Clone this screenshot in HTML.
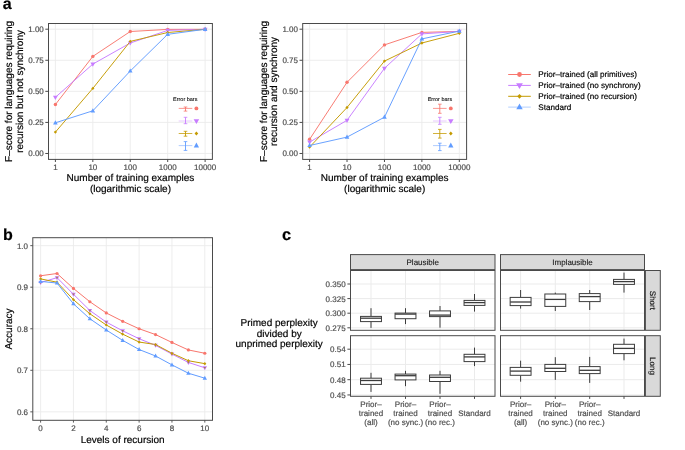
<!DOCTYPE html>
<html><head><meta charset="utf-8"><style>
html,body{margin:0;padding:0;background:#fff;}
svg{display:block;will-change:transform;}
text{text-rendering:geometricPrecision;font-family:"Liberation Sans",sans-serif;stroke:currentColor;stroke-width:0.18px;}
</style></head><body>
<svg width="685" height="450" viewBox="0 0 685 450" font-family="Liberation Sans, sans-serif">
<rect width="685" height="450" fill="#fff"/>
<line x1="48.5" y1="29.2" x2="212.4" y2="29.2" stroke="#EBEBEB" stroke-width="0.9" />
<line x1="48.5" y1="60.269999999999996" x2="212.4" y2="60.269999999999996" stroke="#EBEBEB" stroke-width="0.9" />
<line x1="48.5" y1="91.34" x2="212.4" y2="91.34" stroke="#EBEBEB" stroke-width="0.9" />
<line x1="48.5" y1="122.41000000000001" x2="212.4" y2="122.41000000000001" stroke="#EBEBEB" stroke-width="0.9" />
<line x1="48.5" y1="153.48" x2="212.4" y2="153.48" stroke="#EBEBEB" stroke-width="0.9" />
<line x1="55.4" y1="23.5" x2="55.4" y2="159.4" stroke="#EBEBEB" stroke-width="0.9" />
<line x1="92.83" y1="23.5" x2="92.83" y2="159.4" stroke="#EBEBEB" stroke-width="0.9" />
<line x1="130.26" y1="23.5" x2="130.26" y2="159.4" stroke="#EBEBEB" stroke-width="0.9" />
<line x1="167.69" y1="23.5" x2="167.69" y2="159.4" stroke="#EBEBEB" stroke-width="0.9" />
<line x1="205.12" y1="23.5" x2="205.12" y2="159.4" stroke="#EBEBEB" stroke-width="0.9" />
<polyline fill="none" stroke="#F8766D" stroke-width="0.95" points="55.4,104.5 92.83,56.4 130.26,31.5 167.69,29.4 205.12,29.3"/>
<polyline fill="none" stroke="#C77CFF" stroke-width="0.95" points="55.4,97.3 92.83,64.1 130.26,43.0 167.69,30.4 205.12,29.3"/>
<polyline fill="none" stroke="#C49A00" stroke-width="0.95" points="55.4,132.1 92.83,88.4 130.26,41.4 167.69,32.5 205.12,29.3"/>
<polyline fill="none" stroke="#619CFF" stroke-width="0.95" points="55.4,122.8 92.83,110.8 130.26,71.0 167.69,34.3 205.12,29.3"/>
<circle cx="55.4" cy="104.5" r="1.70" fill="#F8766D"/>
<circle cx="92.83" cy="56.4" r="1.70" fill="#F8766D"/>
<circle cx="130.26" cy="31.5" r="1.70" fill="#F8766D"/>
<circle cx="167.69" cy="29.4" r="1.70" fill="#F8766D"/>
<circle cx="205.12" cy="29.3" r="1.70" fill="#F8766D"/>
<polygon points="53.00,95.72 57.80,95.72 55.40,99.92" fill="#C77CFF"/>
<polygon points="90.43,62.52 95.23,62.52 92.83,66.72" fill="#C77CFF"/>
<polygon points="127.86,41.42 132.66,41.42 130.26,45.62" fill="#C77CFF"/>
<polygon points="165.29,28.82 170.09,28.82 167.69,33.02" fill="#C77CFF"/>
<polygon points="202.72,27.73 207.52,27.73 205.12,31.93" fill="#C77CFF"/>
<polygon points="53.80,132.10 55.40,130.40 57.00,132.10 55.40,133.80" fill="#C49A00"/>
<polygon points="91.23,88.40 92.83,86.70 94.43,88.40 92.83,90.10" fill="#C49A00"/>
<polygon points="128.66,41.40 130.26,39.70 131.86,41.40 130.26,43.10" fill="#C49A00"/>
<polygon points="166.09,32.50 167.69,30.80 169.29,32.50 167.69,34.20" fill="#C49A00"/>
<polygon points="203.52,29.30 205.12,27.60 206.72,29.30 205.12,31.00" fill="#C49A00"/>
<polygon points="53.10,124.38 57.70,124.38 55.40,120.17" fill="#619CFF"/>
<polygon points="90.53,112.38 95.13,112.38 92.83,108.17" fill="#619CFF"/>
<polygon points="127.96,72.58 132.56,72.58 130.26,68.38" fill="#619CFF"/>
<polygon points="165.39,35.88 169.99,35.88 167.69,31.67" fill="#619CFF"/>
<polygon points="202.82,30.88 207.42,30.88 205.12,26.68" fill="#619CFF"/>
<text x="173" y="100.8" font-size="5.5" fill="#000" color="#000" text-anchor="start" style="stroke-width:0.08px">Error bars</text>
<line x1="178.7" y1="108.4" x2="192.3" y2="108.4" stroke="#F8766D" stroke-width="0.9" stroke-opacity="0.85"/>
<line x1="185.5" y1="107" x2="185.5" y2="111.1" stroke="#F8766D" stroke-width="0.9" />
<line x1="183.7" y1="107" x2="187.3" y2="107" stroke="#F8766D" stroke-width="0.8" />
<line x1="183.7" y1="111.1" x2="187.3" y2="111.1" stroke="#F8766D" stroke-width="0.8" />
<circle cx="196.4" cy="108.4" r="1.95" fill="#F8766D"/>
<line x1="178.7" y1="121.0" x2="192.3" y2="121.0" stroke="#C77CFF" stroke-width="0.9" stroke-opacity="0.45"/>
<line x1="185.5" y1="117.3" x2="185.5" y2="123.7" stroke="#C77CFF" stroke-width="0.9" />
<line x1="183.7" y1="117.3" x2="187.3" y2="117.3" stroke="#C77CFF" stroke-width="0.8" />
<line x1="183.7" y1="123.7" x2="187.3" y2="123.7" stroke="#C77CFF" stroke-width="0.8" />
<polygon points="193.64,119.19 199.16,119.19 196.40,124.02" fill="#C77CFF"/>
<line x1="178.7" y1="133.5" x2="192.3" y2="133.5" stroke="#C49A00" stroke-width="0.9" stroke-opacity="0.85"/>
<line x1="185.5" y1="131.3" x2="185.5" y2="136.2" stroke="#C49A00" stroke-width="0.9" />
<line x1="183.7" y1="131.3" x2="187.3" y2="131.3" stroke="#C49A00" stroke-width="0.8" />
<line x1="183.7" y1="136.2" x2="187.3" y2="136.2" stroke="#C49A00" stroke-width="0.8" />
<polygon points="194.56,133.50 196.40,131.54 198.24,133.50 196.40,135.46" fill="#C49A00"/>
<line x1="178.7" y1="145.6" x2="192.3" y2="145.6" stroke="#619CFF" stroke-width="0.9" stroke-opacity="0.55"/>
<line x1="185.5" y1="141.6" x2="185.5" y2="150.4" stroke="#619CFF" stroke-width="0.9" />
<line x1="183.7" y1="141.6" x2="187.3" y2="141.6" stroke="#619CFF" stroke-width="0.8" />
<line x1="183.7" y1="150.4" x2="187.3" y2="150.4" stroke="#619CFF" stroke-width="0.8" />
<polygon points="193.75,147.41 199.05,147.41 196.40,142.58" fill="#619CFF"/>
<rect x="48.5" y="23.5" width="163.9" height="135.9" fill="none" stroke="#4a4a4a" stroke-width="1"/>
<line x1="45.3" y1="29.2" x2="48.5" y2="29.2" stroke="#4a4a4a" stroke-width="1" />
<text x="43.8" y="32.1" font-size="8" fill="#4D4D4D" color="#4D4D4D" text-anchor="end" >1.00</text>
<line x1="45.3" y1="60.269999999999996" x2="48.5" y2="60.269999999999996" stroke="#4a4a4a" stroke-width="1" />
<text x="43.8" y="63.169999999999995" font-size="8" fill="#4D4D4D" color="#4D4D4D" text-anchor="end" >0.75</text>
<line x1="45.3" y1="91.34" x2="48.5" y2="91.34" stroke="#4a4a4a" stroke-width="1" />
<text x="43.8" y="94.24000000000001" font-size="8" fill="#4D4D4D" color="#4D4D4D" text-anchor="end" >0.50</text>
<line x1="45.3" y1="122.41000000000001" x2="48.5" y2="122.41000000000001" stroke="#4a4a4a" stroke-width="1" />
<text x="43.8" y="125.31000000000002" font-size="8" fill="#4D4D4D" color="#4D4D4D" text-anchor="end" >0.25</text>
<line x1="45.3" y1="153.48" x2="48.5" y2="153.48" stroke="#4a4a4a" stroke-width="1" />
<text x="43.8" y="156.38" font-size="8" fill="#4D4D4D" color="#4D4D4D" text-anchor="end" >0.00</text>
<line x1="55.4" y1="159.4" x2="55.4" y2="162.0" stroke="#4a4a4a" stroke-width="1" />
<text x="55.4" y="169.8" font-size="8" fill="#4D4D4D" color="#4D4D4D" text-anchor="middle" >1</text>
<line x1="92.83" y1="159.4" x2="92.83" y2="162.0" stroke="#4a4a4a" stroke-width="1" />
<text x="92.83" y="169.8" font-size="8" fill="#4D4D4D" color="#4D4D4D" text-anchor="middle" >10</text>
<line x1="130.26" y1="159.4" x2="130.26" y2="162.0" stroke="#4a4a4a" stroke-width="1" />
<text x="130.26" y="169.8" font-size="8" fill="#4D4D4D" color="#4D4D4D" text-anchor="middle" >100</text>
<line x1="167.69" y1="159.4" x2="167.69" y2="162.0" stroke="#4a4a4a" stroke-width="1" />
<text x="167.69" y="169.8" font-size="8" fill="#4D4D4D" color="#4D4D4D" text-anchor="middle" >1000</text>
<line x1="205.12" y1="159.4" x2="205.12" y2="162.0" stroke="#4a4a4a" stroke-width="1" />
<text x="205.12" y="169.8" font-size="8" fill="#4D4D4D" color="#4D4D4D" text-anchor="middle" >10000</text>
<text x="130.45" y="181.4" font-size="10" fill="#000" color="#000" text-anchor="middle" >Number of training examples</text>
<text x="130.45" y="191.8" font-size="10" fill="#000" color="#000" text-anchor="middle" >(logarithmic scale)</text>
<text transform="translate(12.4,91.45) rotate(-90)" font-size="10" text-anchor="middle">F–score for languages requiring</text>
<text transform="translate(23.2,91.45) rotate(-90)" font-size="10" text-anchor="middle">recursion but not synchrony</text>
<line x1="302.7" y1="29.2" x2="466.6" y2="29.2" stroke="#EBEBEB" stroke-width="0.9" />
<line x1="302.7" y1="60.269999999999996" x2="466.6" y2="60.269999999999996" stroke="#EBEBEB" stroke-width="0.9" />
<line x1="302.7" y1="91.34" x2="466.6" y2="91.34" stroke="#EBEBEB" stroke-width="0.9" />
<line x1="302.7" y1="122.41000000000001" x2="466.6" y2="122.41000000000001" stroke="#EBEBEB" stroke-width="0.9" />
<line x1="302.7" y1="153.48" x2="466.6" y2="153.48" stroke="#EBEBEB" stroke-width="0.9" />
<line x1="309.59999999999997" y1="23.5" x2="309.59999999999997" y2="159.4" stroke="#EBEBEB" stroke-width="0.9" />
<line x1="347.03" y1="23.5" x2="347.03" y2="159.4" stroke="#EBEBEB" stroke-width="0.9" />
<line x1="384.46" y1="23.5" x2="384.46" y2="159.4" stroke="#EBEBEB" stroke-width="0.9" />
<line x1="421.89" y1="23.5" x2="421.89" y2="159.4" stroke="#EBEBEB" stroke-width="0.9" />
<line x1="459.31999999999994" y1="23.5" x2="459.31999999999994" y2="159.4" stroke="#EBEBEB" stroke-width="0.9" />
<polyline fill="none" stroke="#F8766D" stroke-width="0.95" points="309.59999999999997,139.3 347.03,82.3 384.46,44.9 421.89,32.4 459.31999999999994,31.4"/>
<polyline fill="none" stroke="#C77CFF" stroke-width="0.95" points="309.59999999999997,142.1 347.03,120.3 384.46,68.3 421.89,33.9 459.31999999999994,31.4"/>
<polyline fill="none" stroke="#C49A00" stroke-width="0.95" points="309.59999999999997,147.1 347.03,107.5 384.46,61.1 421.89,43.0 459.31999999999994,33.3"/>
<polyline fill="none" stroke="#619CFF" stroke-width="0.95" points="309.59999999999997,145.5 347.03,137.1 384.46,117.2 421.89,38.9 459.31999999999994,31.1"/>
<circle cx="309.59999999999997" cy="139.3" r="1.70" fill="#F8766D"/>
<circle cx="347.03" cy="82.3" r="1.70" fill="#F8766D"/>
<circle cx="384.46" cy="44.9" r="1.70" fill="#F8766D"/>
<circle cx="421.89" cy="32.4" r="1.70" fill="#F8766D"/>
<circle cx="459.31999999999994" cy="31.4" r="1.70" fill="#F8766D"/>
<polygon points="307.20,140.53 312.00,140.53 309.60,144.72" fill="#C77CFF"/>
<polygon points="344.63,118.72 349.43,118.72 347.03,122.92" fill="#C77CFF"/>
<polygon points="382.06,66.72 386.86,66.72 384.46,70.92" fill="#C77CFF"/>
<polygon points="419.49,32.32 424.29,32.32 421.89,36.52" fill="#C77CFF"/>
<polygon points="456.92,29.82 461.72,29.82 459.32,34.02" fill="#C77CFF"/>
<polygon points="308.00,147.10 309.60,145.40 311.20,147.10 309.60,148.80" fill="#C49A00"/>
<polygon points="345.43,107.50 347.03,105.80 348.63,107.50 347.03,109.20" fill="#C49A00"/>
<polygon points="382.86,61.10 384.46,59.40 386.06,61.10 384.46,62.80" fill="#C49A00"/>
<polygon points="420.29,43.00 421.89,41.30 423.49,43.00 421.89,44.70" fill="#C49A00"/>
<polygon points="457.72,33.30 459.32,31.60 460.92,33.30 459.32,35.00" fill="#C49A00"/>
<polygon points="307.30,147.07 311.90,147.07 309.60,142.88" fill="#619CFF"/>
<polygon points="344.73,138.67 349.33,138.67 347.03,134.47" fill="#619CFF"/>
<polygon points="382.16,118.78 386.76,118.78 384.46,114.58" fill="#619CFF"/>
<polygon points="419.59,40.48 424.19,40.48 421.89,36.27" fill="#619CFF"/>
<polygon points="457.02,32.68 461.62,32.68 459.32,28.48" fill="#619CFF"/>
<text x="427.7" y="100.8" font-size="5.5" fill="#000" color="#000" text-anchor="start" style="stroke-width:0.08px">Error bars</text>
<line x1="433.0" y1="108.4" x2="446.6" y2="108.4" stroke="#F8766D" stroke-width="0.9" stroke-opacity="0.85"/>
<line x1="439.8" y1="104.2" x2="439.8" y2="113.3" stroke="#F8766D" stroke-width="0.9" />
<line x1="438.0" y1="104.2" x2="441.6" y2="104.2" stroke="#F8766D" stroke-width="0.8" />
<line x1="438.0" y1="113.3" x2="441.6" y2="113.3" stroke="#F8766D" stroke-width="0.8" />
<circle cx="450.8" cy="108.4" r="1.95" fill="#F8766D"/>
<line x1="433.0" y1="121.0" x2="446.6" y2="121.0" stroke="#C77CFF" stroke-width="0.9" stroke-opacity="0.45"/>
<line x1="439.8" y1="117.3" x2="439.8" y2="124.3" stroke="#C77CFF" stroke-width="0.9" />
<line x1="438.0" y1="117.3" x2="441.6" y2="117.3" stroke="#C77CFF" stroke-width="0.8" />
<line x1="438.0" y1="124.3" x2="441.6" y2="124.3" stroke="#C77CFF" stroke-width="0.8" />
<polygon points="448.04,119.19 453.56,119.19 450.80,124.02" fill="#C77CFF"/>
<line x1="433.0" y1="133.5" x2="446.6" y2="133.5" stroke="#C49A00" stroke-width="0.9" stroke-opacity="0.85"/>
<line x1="439.8" y1="129.4" x2="439.8" y2="138.1" stroke="#C49A00" stroke-width="0.9" />
<line x1="438.0" y1="129.4" x2="441.6" y2="129.4" stroke="#C49A00" stroke-width="0.8" />
<line x1="438.0" y1="138.1" x2="441.6" y2="138.1" stroke="#C49A00" stroke-width="0.8" />
<polygon points="448.96,133.50 450.80,131.54 452.64,133.50 450.80,135.46" fill="#C49A00"/>
<line x1="433.0" y1="145.6" x2="446.6" y2="145.6" stroke="#619CFF" stroke-width="0.9" stroke-opacity="0.55"/>
<line x1="439.8" y1="143.2" x2="439.8" y2="150.6" stroke="#619CFF" stroke-width="0.9" />
<line x1="438.0" y1="143.2" x2="441.6" y2="143.2" stroke="#619CFF" stroke-width="0.8" />
<line x1="438.0" y1="150.6" x2="441.6" y2="150.6" stroke="#619CFF" stroke-width="0.8" />
<polygon points="448.16,147.41 453.44,147.41 450.80,142.58" fill="#619CFF"/>
<rect x="302.7" y="23.5" width="163.90000000000003" height="135.9" fill="none" stroke="#4a4a4a" stroke-width="1"/>
<line x1="299.5" y1="29.2" x2="302.7" y2="29.2" stroke="#4a4a4a" stroke-width="1" />
<text x="298.0" y="32.1" font-size="8" fill="#4D4D4D" color="#4D4D4D" text-anchor="end" >1.00</text>
<line x1="299.5" y1="60.269999999999996" x2="302.7" y2="60.269999999999996" stroke="#4a4a4a" stroke-width="1" />
<text x="298.0" y="63.169999999999995" font-size="8" fill="#4D4D4D" color="#4D4D4D" text-anchor="end" >0.75</text>
<line x1="299.5" y1="91.34" x2="302.7" y2="91.34" stroke="#4a4a4a" stroke-width="1" />
<text x="298.0" y="94.24000000000001" font-size="8" fill="#4D4D4D" color="#4D4D4D" text-anchor="end" >0.50</text>
<line x1="299.5" y1="122.41000000000001" x2="302.7" y2="122.41000000000001" stroke="#4a4a4a" stroke-width="1" />
<text x="298.0" y="125.31000000000002" font-size="8" fill="#4D4D4D" color="#4D4D4D" text-anchor="end" >0.25</text>
<line x1="299.5" y1="153.48" x2="302.7" y2="153.48" stroke="#4a4a4a" stroke-width="1" />
<text x="298.0" y="156.38" font-size="8" fill="#4D4D4D" color="#4D4D4D" text-anchor="end" >0.00</text>
<line x1="309.59999999999997" y1="159.4" x2="309.59999999999997" y2="162.0" stroke="#4a4a4a" stroke-width="1" />
<text x="309.59999999999997" y="169.8" font-size="8" fill="#4D4D4D" color="#4D4D4D" text-anchor="middle" >1</text>
<line x1="347.03" y1="159.4" x2="347.03" y2="162.0" stroke="#4a4a4a" stroke-width="1" />
<text x="347.03" y="169.8" font-size="8" fill="#4D4D4D" color="#4D4D4D" text-anchor="middle" >10</text>
<line x1="384.46" y1="159.4" x2="384.46" y2="162.0" stroke="#4a4a4a" stroke-width="1" />
<text x="384.46" y="169.8" font-size="8" fill="#4D4D4D" color="#4D4D4D" text-anchor="middle" >100</text>
<line x1="421.89" y1="159.4" x2="421.89" y2="162.0" stroke="#4a4a4a" stroke-width="1" />
<text x="421.89" y="169.8" font-size="8" fill="#4D4D4D" color="#4D4D4D" text-anchor="middle" >1000</text>
<line x1="459.31999999999994" y1="159.4" x2="459.31999999999994" y2="162.0" stroke="#4a4a4a" stroke-width="1" />
<text x="459.31999999999994" y="169.8" font-size="8" fill="#4D4D4D" color="#4D4D4D" text-anchor="middle" >10000</text>
<text x="384.65" y="181.4" font-size="10" fill="#000" color="#000" text-anchor="middle" >Number of training examples</text>
<text x="384.65" y="191.8" font-size="10" fill="#000" color="#000" text-anchor="middle" >(logarithmic scale)</text>
<text transform="translate(266.59999999999997,91.45) rotate(-90)" font-size="10" text-anchor="middle">F–score for languages requiring</text>
<text transform="translate(277.4,91.45) rotate(-90)" font-size="10" text-anchor="middle">recursion and synchrony</text>
<line x1="508.2" y1="74.5" x2="530.8" y2="74.5" stroke="#F8766D" stroke-width="1.0" />
<circle cx="519.5" cy="74.5" r="2.38" fill="#F8766D"/>
<text x="538.3" y="77.4" font-size="8.12" fill="#000" color="#000" text-anchor="start" >Prior–trained (all primitives)</text>
<line x1="508.2" y1="85.4" x2="530.8" y2="85.4" stroke="#C77CFF" stroke-width="1.0" />
<polygon points="516.14,83.20 522.86,83.20 519.50,89.08" fill="#C77CFF"/>
<text x="538.3" y="88.30000000000001" font-size="8.12" fill="#000" color="#000" text-anchor="start" >Prior–trained (no synchrony)</text>
<line x1="508.2" y1="96.3" x2="530.8" y2="96.3" stroke="#C49A00" stroke-width="1.0" />
<polygon points="517.26,96.30 519.50,93.92 521.74,96.30 519.50,98.68" fill="#C49A00"/>
<text x="538.3" y="99.2" font-size="8.12" fill="#000" color="#000" text-anchor="start" >Prior–trained (no recursion)</text>
<line x1="508.2" y1="107.1" x2="530.8" y2="107.1" stroke="#B3CFFF" stroke-width="1.0" />
<polygon points="516.28,109.30 522.72,109.30 519.50,103.42" fill="#619CFF"/>
<text x="538.3" y="110.0" font-size="8.12" fill="#000" color="#000" text-anchor="start" >Standard</text>
<text x="2.7" y="9.1" font-size="16" fill="#000" color="#000" text-anchor="start" font-weight="bold">a</text>
<text x="3.1" y="239.6" font-size="16" fill="#000" color="#000" text-anchor="start" font-weight="bold">b</text>
<text x="281.9" y="240.2" font-size="16.4" fill="#000" color="#000" text-anchor="start" font-weight="bold">c</text>
<line x1="32.8" y1="411.85" x2="212.5" y2="411.85" stroke="#EBEBEB" stroke-width="0.9" />
<line x1="32.8" y1="370.3" x2="212.5" y2="370.3" stroke="#EBEBEB" stroke-width="0.9" />
<line x1="32.8" y1="328.75" x2="212.5" y2="328.75" stroke="#EBEBEB" stroke-width="0.9" />
<line x1="32.8" y1="287.2" x2="212.5" y2="287.2" stroke="#EBEBEB" stroke-width="0.9" />
<line x1="32.8" y1="245.65" x2="212.5" y2="245.65" stroke="#EBEBEB" stroke-width="0.9" />
<line x1="40.6" y1="237.7" x2="40.6" y2="420.3" stroke="#EBEBEB" stroke-width="0.9" />
<line x1="73.44" y1="237.7" x2="73.44" y2="420.3" stroke="#EBEBEB" stroke-width="0.9" />
<line x1="106.28" y1="237.7" x2="106.28" y2="420.3" stroke="#EBEBEB" stroke-width="0.9" />
<line x1="139.12" y1="237.7" x2="139.12" y2="420.3" stroke="#EBEBEB" stroke-width="0.9" />
<line x1="171.96" y1="237.7" x2="171.96" y2="420.3" stroke="#EBEBEB" stroke-width="0.9" />
<line x1="204.8" y1="237.7" x2="204.8" y2="420.3" stroke="#EBEBEB" stroke-width="0.9" />
<polyline fill="none" stroke="#F8766D" stroke-width="1.0" points="40.6,275.77 57.02,273.49 73.44,288.45 89.86000000000001,301.74 106.28,312.96 122.70000000000002,321.27 139.12,328.75 155.54000000000002,334.57 171.96,342.46 188.38000000000002,349.94 204.8,353.26"/>
<polyline fill="none" stroke="#C77CFF" stroke-width="1.0" points="40.6,282.63 57.02,277.64 73.44,294.26 89.86000000000001,310.47 106.28,322.1 122.70000000000002,330.83 139.12,338.72 155.54000000000002,345.37 171.96,354.1 188.38000000000002,362.41 204.8,367.81"/>
<polyline fill="none" stroke="#C49A00" stroke-width="1.0" points="40.6,278.89 57.02,282.21 73.44,299.67 89.86000000000001,313.79 106.28,325.01 122.70000000000002,334.15 139.12,342.05 155.54000000000002,344.54 171.96,353.26 188.38000000000002,360.74 204.8,363.65"/>
<polyline fill="none" stroke="#619CFF" stroke-width="1.0" points="40.6,281.38 57.02,283.04 73.44,303.82 89.86000000000001,318.78 106.28,330.0 122.70000000000002,340.38 139.12,349.52 155.54000000000002,355.97 171.96,364.9 188.38000000000002,373.21 204.8,378.19"/>
<circle cx="40.6" cy="275.77" r="1.61" fill="#F8766D"/>
<circle cx="57.02" cy="273.49" r="1.61" fill="#F8766D"/>
<circle cx="73.44" cy="288.45" r="1.61" fill="#F8766D"/>
<circle cx="89.86000000000001" cy="301.74" r="1.61" fill="#F8766D"/>
<circle cx="106.28" cy="312.96" r="1.61" fill="#F8766D"/>
<circle cx="122.70000000000002" cy="321.27" r="1.61" fill="#F8766D"/>
<circle cx="139.12" cy="328.75" r="1.61" fill="#F8766D"/>
<circle cx="155.54000000000002" cy="334.57" r="1.61" fill="#F8766D"/>
<circle cx="171.96" cy="342.46" r="1.61" fill="#F8766D"/>
<circle cx="188.38000000000002" cy="349.94" r="1.61" fill="#F8766D"/>
<circle cx="204.8" cy="353.26" r="1.61" fill="#F8766D"/>
<polygon points="38.32,281.13 42.88,281.13 40.60,285.12" fill="#C77CFF"/>
<polygon points="39.40,281.84 41.80,281.84 40.60,283.94" fill="#A8804A"/>
<polygon points="54.74,276.14 59.30,276.14 57.02,280.13" fill="#C77CFF"/>
<polygon points="55.82,276.85 58.22,276.85 57.02,278.95" fill="#A8804A"/>
<polygon points="71.16,292.76 75.72,292.76 73.44,296.75" fill="#C77CFF"/>
<polygon points="72.24,293.47 74.64,293.47 73.44,295.57" fill="#A8804A"/>
<polygon points="87.58,308.97 92.14,308.97 89.86,312.96" fill="#C77CFF"/>
<polygon points="88.66,309.68 91.06,309.68 89.86,311.78" fill="#A8804A"/>
<polygon points="104.00,320.60 108.56,320.60 106.28,324.59" fill="#C77CFF"/>
<polygon points="105.08,321.31 107.48,321.31 106.28,323.41" fill="#A8804A"/>
<polygon points="120.42,329.33 124.98,329.33 122.70,333.32" fill="#C77CFF"/>
<polygon points="121.50,330.04 123.90,330.04 122.70,332.14" fill="#A8804A"/>
<polygon points="136.84,337.22 141.40,337.22 139.12,341.21" fill="#C77CFF"/>
<polygon points="137.92,337.93 140.32,337.93 139.12,340.03" fill="#A8804A"/>
<polygon points="153.26,343.87 157.82,343.87 155.54,347.86" fill="#C77CFF"/>
<polygon points="154.34,344.58 156.74,344.58 155.54,346.68" fill="#A8804A"/>
<polygon points="169.68,352.60 174.24,352.60 171.96,356.59" fill="#C77CFF"/>
<polygon points="170.76,353.31 173.16,353.31 171.96,355.41" fill="#A8804A"/>
<polygon points="186.10,360.91 190.66,360.91 188.38,364.90" fill="#C77CFF"/>
<polygon points="187.18,361.62 189.58,361.62 188.38,363.72" fill="#A8804A"/>
<polygon points="202.52,366.31 207.08,366.31 204.80,370.30" fill="#C77CFF"/>
<polygon points="203.60,367.02 206.00,367.02 204.80,369.12" fill="#A8804A"/>
<polygon points="39.08,278.89 40.60,277.27 42.12,278.89 40.60,280.50" fill="#C49A00"/>
<polygon points="55.50,282.21 57.02,280.59 58.54,282.21 57.02,283.82" fill="#C49A00"/>
<polygon points="71.92,299.67 73.44,298.06 74.96,299.67 73.44,301.29" fill="#C49A00"/>
<polygon points="88.34,313.79 89.86,312.18 91.38,313.79 89.86,315.41" fill="#C49A00"/>
<polygon points="104.76,325.01 106.28,323.39 107.80,325.01 106.28,326.62" fill="#C49A00"/>
<polygon points="121.18,334.15 122.70,332.53 124.22,334.15 122.70,335.76" fill="#C49A00"/>
<polygon points="137.60,342.05 139.12,340.44 140.64,342.05 139.12,343.67" fill="#C49A00"/>
<polygon points="154.02,344.54 155.54,342.93 157.06,344.54 155.54,346.16" fill="#C49A00"/>
<polygon points="170.44,353.26 171.96,351.64 173.48,353.26 171.96,354.88" fill="#C49A00"/>
<polygon points="186.86,360.74 188.38,359.12 189.90,360.74 188.38,362.36" fill="#C49A00"/>
<polygon points="203.28,363.65 204.80,362.03 206.32,363.65 204.80,365.26" fill="#C49A00"/>
<polygon points="38.41,282.88 42.79,282.88 40.60,278.89" fill="#619CFF"/>
<polygon points="54.84,284.54 59.21,284.54 57.02,280.55" fill="#619CFF"/>
<polygon points="71.25,305.32 75.62,305.32 73.44,301.33" fill="#619CFF"/>
<polygon points="87.68,320.28 92.05,320.28 89.86,316.29" fill="#619CFF"/>
<polygon points="104.09,331.50 108.47,331.50 106.28,327.51" fill="#619CFF"/>
<polygon points="120.52,341.88 124.89,341.88 122.70,337.89" fill="#619CFF"/>
<polygon points="136.94,351.02 141.31,351.02 139.12,347.03" fill="#619CFF"/>
<polygon points="153.36,357.47 157.73,357.47 155.54,353.48" fill="#619CFF"/>
<polygon points="169.78,366.40 174.15,366.40 171.96,362.41" fill="#619CFF"/>
<polygon points="186.20,374.71 190.57,374.71 188.38,370.72" fill="#619CFF"/>
<polygon points="202.62,379.69 206.99,379.69 204.80,375.70" fill="#619CFF"/>
<rect x="32.8" y="237.7" width="179.7" height="182.60000000000002" fill="none" stroke="#4a4a4a" stroke-width="1"/>
<line x1="30.299999999999997" y1="411.85" x2="32.8" y2="411.85" stroke="#4a4a4a" stroke-width="0.9" />
<text x="27.999999999999996" y="414.75" font-size="8" fill="#4D4D4D" color="#4D4D4D" text-anchor="end" >0.6</text>
<line x1="30.299999999999997" y1="370.3" x2="32.8" y2="370.3" stroke="#4a4a4a" stroke-width="0.9" />
<text x="27.999999999999996" y="373.2" font-size="8" fill="#4D4D4D" color="#4D4D4D" text-anchor="end" >0.7</text>
<line x1="30.299999999999997" y1="328.75" x2="32.8" y2="328.75" stroke="#4a4a4a" stroke-width="0.9" />
<text x="27.999999999999996" y="331.65" font-size="8" fill="#4D4D4D" color="#4D4D4D" text-anchor="end" >0.8</text>
<line x1="30.299999999999997" y1="287.2" x2="32.8" y2="287.2" stroke="#4a4a4a" stroke-width="0.9" />
<text x="27.999999999999996" y="290.09999999999997" font-size="8" fill="#4D4D4D" color="#4D4D4D" text-anchor="end" >0.9</text>
<line x1="30.299999999999997" y1="245.65" x2="32.8" y2="245.65" stroke="#4a4a4a" stroke-width="0.9" />
<text x="27.999999999999996" y="248.55" font-size="8" fill="#4D4D4D" color="#4D4D4D" text-anchor="end" >1.0</text>
<line x1="40.6" y1="420.3" x2="40.6" y2="422.6" stroke="#4a4a4a" stroke-width="0.9" />
<text x="40.6" y="431.3" font-size="8" fill="#4D4D4D" color="#4D4D4D" text-anchor="middle" >0</text>
<line x1="73.44" y1="420.3" x2="73.44" y2="422.6" stroke="#4a4a4a" stroke-width="0.9" />
<text x="73.44" y="431.3" font-size="8" fill="#4D4D4D" color="#4D4D4D" text-anchor="middle" >2</text>
<line x1="106.28" y1="420.3" x2="106.28" y2="422.6" stroke="#4a4a4a" stroke-width="0.9" />
<text x="106.28" y="431.3" font-size="8" fill="#4D4D4D" color="#4D4D4D" text-anchor="middle" >4</text>
<line x1="139.12" y1="420.3" x2="139.12" y2="422.6" stroke="#4a4a4a" stroke-width="0.9" />
<text x="139.12" y="431.3" font-size="8" fill="#4D4D4D" color="#4D4D4D" text-anchor="middle" >6</text>
<line x1="171.96" y1="420.3" x2="171.96" y2="422.6" stroke="#4a4a4a" stroke-width="0.9" />
<text x="171.96" y="431.3" font-size="8" fill="#4D4D4D" color="#4D4D4D" text-anchor="middle" >8</text>
<line x1="204.8" y1="420.3" x2="204.8" y2="422.6" stroke="#4a4a4a" stroke-width="0.9" />
<text x="204.8" y="431.3" font-size="8" fill="#4D4D4D" color="#4D4D4D" text-anchor="middle" >10</text>
<text x="122.65" y="443" font-size="10" fill="#000" color="#000" text-anchor="middle" >Levels of recursion</text>
<text transform="translate(12.3,329.0) rotate(-90)" font-size="10" text-anchor="middle">Accuracy</text>
<rect x="350.5" y="254.6" width="144.5" height="15.00" fill="#D9D9D9" stroke="#4a4a4a" stroke-width="1"/>
<text x="422.75" y="265.2" font-size="8" fill="#1A1A1A" color="#1A1A1A" text-anchor="middle" style="stroke-width:0.12px">Plausible</text>
<rect x="500.5" y="254.6" width="144.0" height="15.00" fill="#D9D9D9" stroke="#4a4a4a" stroke-width="1"/>
<text x="572.5" y="265.2" font-size="8" fill="#1A1A1A" color="#1A1A1A" text-anchor="middle" style="stroke-width:0.12px">Implausible</text>
<rect x="645.4" y="270.5" width="14.9" height="59.80" fill="#D9D9D9" stroke="#4a4a4a" stroke-width="1"/>
<text transform="translate(649.9,300.4) rotate(90)" font-size="8" fill="#1A1A1A" text-anchor="middle" style="stroke-width:0.12px">Short</text>
<rect x="645.4" y="335.7" width="14.9" height="60.60" fill="#D9D9D9" stroke="#4a4a4a" stroke-width="1"/>
<text transform="translate(649.9,366.0) rotate(90)" font-size="8" fill="#1A1A1A" text-anchor="middle" style="stroke-width:0.12px">Long</text>
<line x1="350.5" y1="327.8" x2="495.0" y2="327.8" stroke="#EBEBEB" stroke-width="1" />
<line x1="350.5" y1="313.2" x2="495.0" y2="313.2" stroke="#EBEBEB" stroke-width="1" />
<line x1="350.5" y1="298.6" x2="495.0" y2="298.6" stroke="#EBEBEB" stroke-width="1" />
<line x1="350.5" y1="284.0" x2="495.0" y2="284.0" stroke="#EBEBEB" stroke-width="1" />
<line x1="371.0" y1="270.5" x2="371.0" y2="330.3" stroke="#EBEBEB" stroke-width="1" />
<line x1="405.5" y1="270.5" x2="405.5" y2="330.3" stroke="#EBEBEB" stroke-width="1" />
<line x1="440.0" y1="270.5" x2="440.0" y2="330.3" stroke="#EBEBEB" stroke-width="1" />
<line x1="474.5" y1="270.5" x2="474.5" y2="330.3" stroke="#EBEBEB" stroke-width="1" />
<line x1="350.5" y1="394.95" x2="495.0" y2="394.95" stroke="#EBEBEB" stroke-width="1" />
<line x1="350.5" y1="379.7" x2="495.0" y2="379.7" stroke="#EBEBEB" stroke-width="1" />
<line x1="350.5" y1="364.45" x2="495.0" y2="364.45" stroke="#EBEBEB" stroke-width="1" />
<line x1="350.5" y1="349.2" x2="495.0" y2="349.2" stroke="#EBEBEB" stroke-width="1" />
<line x1="371.0" y1="335.7" x2="371.0" y2="396.3" stroke="#EBEBEB" stroke-width="1" />
<line x1="405.5" y1="335.7" x2="405.5" y2="396.3" stroke="#EBEBEB" stroke-width="1" />
<line x1="440.0" y1="335.7" x2="440.0" y2="396.3" stroke="#EBEBEB" stroke-width="1" />
<line x1="474.5" y1="335.7" x2="474.5" y2="396.3" stroke="#EBEBEB" stroke-width="1" />
<line x1="500.5" y1="327.8" x2="644.5" y2="327.8" stroke="#EBEBEB" stroke-width="1" />
<line x1="500.5" y1="313.2" x2="644.5" y2="313.2" stroke="#EBEBEB" stroke-width="1" />
<line x1="500.5" y1="298.6" x2="644.5" y2="298.6" stroke="#EBEBEB" stroke-width="1" />
<line x1="500.5" y1="284.0" x2="644.5" y2="284.0" stroke="#EBEBEB" stroke-width="1" />
<line x1="520.6" y1="270.5" x2="520.6" y2="330.3" stroke="#EBEBEB" stroke-width="1" />
<line x1="555.3" y1="270.5" x2="555.3" y2="330.3" stroke="#EBEBEB" stroke-width="1" />
<line x1="589.7" y1="270.5" x2="589.7" y2="330.3" stroke="#EBEBEB" stroke-width="1" />
<line x1="624.0" y1="270.5" x2="624.0" y2="330.3" stroke="#EBEBEB" stroke-width="1" />
<line x1="500.5" y1="394.95" x2="644.5" y2="394.95" stroke="#EBEBEB" stroke-width="1" />
<line x1="500.5" y1="379.7" x2="644.5" y2="379.7" stroke="#EBEBEB" stroke-width="1" />
<line x1="500.5" y1="364.45" x2="644.5" y2="364.45" stroke="#EBEBEB" stroke-width="1" />
<line x1="500.5" y1="349.2" x2="644.5" y2="349.2" stroke="#EBEBEB" stroke-width="1" />
<line x1="520.6" y1="335.7" x2="520.6" y2="396.3" stroke="#EBEBEB" stroke-width="1" />
<line x1="555.3" y1="335.7" x2="555.3" y2="396.3" stroke="#EBEBEB" stroke-width="1" />
<line x1="589.7" y1="335.7" x2="589.7" y2="396.3" stroke="#EBEBEB" stroke-width="1" />
<line x1="624.0" y1="335.7" x2="624.0" y2="396.3" stroke="#EBEBEB" stroke-width="1" />
<line x1="371.0" y1="308.2" x2="371.0" y2="316.4" stroke="#3c3c3c" stroke-width="1" />
<line x1="371.0" y1="321.6" x2="371.0" y2="327.9" stroke="#3c3c3c" stroke-width="1" />
<rect x="360.55" y="316.4" width="20.90" height="5.20" fill="#fff" stroke="#3c3c3c" stroke-width="1"/>
<line x1="360.55" y1="318.2" x2="381.45" y2="318.2" stroke="#3c3c3c" stroke-width="1.3" />
<line x1="405.5" y1="308.2" x2="405.5" y2="313.1" stroke="#3c3c3c" stroke-width="1" />
<line x1="405.5" y1="318.7" x2="405.5" y2="324.1" stroke="#3c3c3c" stroke-width="1" />
<rect x="395.05" y="313.1" width="20.90" height="5.60" fill="#fff" stroke="#3c3c3c" stroke-width="1"/>
<line x1="395.05" y1="314.1" x2="415.95" y2="314.1" stroke="#3c3c3c" stroke-width="1.3" />
<line x1="440.0" y1="306" x2="440.0" y2="310.9" stroke="#3c3c3c" stroke-width="1" />
<line x1="440.0" y1="316.6" x2="440.0" y2="327.7" stroke="#3c3c3c" stroke-width="1" />
<rect x="429.55" y="310.9" width="20.90" height="5.70" fill="#fff" stroke="#3c3c3c" stroke-width="1"/>
<line x1="429.55" y1="315.1" x2="450.45" y2="315.1" stroke="#3c3c3c" stroke-width="1.3" />
<line x1="474.5" y1="294" x2="474.5" y2="300.4" stroke="#3c3c3c" stroke-width="1" />
<line x1="474.5" y1="305.4" x2="474.5" y2="311.6" stroke="#3c3c3c" stroke-width="1" />
<rect x="464.05" y="300.4" width="20.90" height="5.00" fill="#fff" stroke="#3c3c3c" stroke-width="1"/>
<line x1="464.05" y1="302.6" x2="484.95" y2="302.6" stroke="#3c3c3c" stroke-width="1.3" />
<line x1="520.6" y1="290" x2="520.6" y2="297.4" stroke="#3c3c3c" stroke-width="1" />
<line x1="520.6" y1="305.6" x2="520.6" y2="308.6" stroke="#3c3c3c" stroke-width="1" />
<rect x="510.15" y="297.4" width="20.90" height="8.20" fill="#fff" stroke="#3c3c3c" stroke-width="1"/>
<line x1="510.15" y1="302" x2="531.05" y2="302" stroke="#3c3c3c" stroke-width="1.3" />
<line x1="555.3" y1="292.6" x2="555.3" y2="294" stroke="#3c3c3c" stroke-width="1" />
<line x1="555.3" y1="306.4" x2="555.3" y2="311" stroke="#3c3c3c" stroke-width="1" />
<rect x="544.85" y="294" width="20.90" height="12.40" fill="#fff" stroke="#3c3c3c" stroke-width="1"/>
<line x1="544.85" y1="299.4" x2="565.75" y2="299.4" stroke="#3c3c3c" stroke-width="1.3" />
<line x1="589.7" y1="290" x2="589.7" y2="293.6" stroke="#3c3c3c" stroke-width="1" />
<line x1="589.7" y1="301.6" x2="589.7" y2="310" stroke="#3c3c3c" stroke-width="1" />
<rect x="579.25" y="293.6" width="20.90" height="8.00" fill="#fff" stroke="#3c3c3c" stroke-width="1"/>
<line x1="579.25" y1="296.6" x2="600.15" y2="296.6" stroke="#3c3c3c" stroke-width="1.3" />
<line x1="624.0" y1="272.6" x2="624.0" y2="279.4" stroke="#3c3c3c" stroke-width="1" />
<line x1="624.0" y1="284.4" x2="624.0" y2="292.6" stroke="#3c3c3c" stroke-width="1" />
<rect x="613.55" y="279.4" width="20.90" height="5.00" fill="#fff" stroke="#3c3c3c" stroke-width="1"/>
<line x1="613.55" y1="281.6" x2="634.45" y2="281.6" stroke="#3c3c3c" stroke-width="1.3" />
<line x1="371.0" y1="372.8" x2="371.0" y2="378.2" stroke="#3c3c3c" stroke-width="1" />
<line x1="371.0" y1="384.4" x2="371.0" y2="391.9" stroke="#3c3c3c" stroke-width="1" />
<rect x="360.55" y="378.2" width="20.90" height="6.20" fill="#fff" stroke="#3c3c3c" stroke-width="1"/>
<line x1="360.55" y1="380.5" x2="381.45" y2="380.5" stroke="#3c3c3c" stroke-width="1.3" />
<line x1="405.5" y1="370.8" x2="405.5" y2="374.1" stroke="#3c3c3c" stroke-width="1" />
<line x1="405.5" y1="379.9" x2="405.5" y2="386.2" stroke="#3c3c3c" stroke-width="1" />
<rect x="395.05" y="374.1" width="20.90" height="5.80" fill="#fff" stroke="#3c3c3c" stroke-width="1"/>
<line x1="395.05" y1="375.7" x2="415.95" y2="375.7" stroke="#3c3c3c" stroke-width="1.3" />
<line x1="440.0" y1="370.8" x2="440.0" y2="375" stroke="#3c3c3c" stroke-width="1" />
<line x1="440.0" y1="381.5" x2="440.0" y2="393.8" stroke="#3c3c3c" stroke-width="1" />
<rect x="429.55" y="375" width="20.90" height="6.50" fill="#fff" stroke="#3c3c3c" stroke-width="1"/>
<line x1="429.55" y1="377.3" x2="450.45" y2="377.3" stroke="#3c3c3c" stroke-width="1.3" />
<line x1="474.5" y1="347.6" x2="474.5" y2="354.3" stroke="#3c3c3c" stroke-width="1" />
<line x1="474.5" y1="361.6" x2="474.5" y2="366.1" stroke="#3c3c3c" stroke-width="1" />
<rect x="464.05" y="354.3" width="20.90" height="7.30" fill="#fff" stroke="#3c3c3c" stroke-width="1"/>
<line x1="464.05" y1="356.9" x2="484.95" y2="356.9" stroke="#3c3c3c" stroke-width="1.3" />
<line x1="520.6" y1="360.7" x2="520.6" y2="367.4" stroke="#3c3c3c" stroke-width="1" />
<line x1="520.6" y1="375.3" x2="520.6" y2="381.7" stroke="#3c3c3c" stroke-width="1" />
<rect x="510.15" y="367.4" width="20.90" height="7.90" fill="#fff" stroke="#3c3c3c" stroke-width="1"/>
<line x1="510.15" y1="371.1" x2="531.05" y2="371.1" stroke="#3c3c3c" stroke-width="1.3" />
<line x1="555.3" y1="357.2" x2="555.3" y2="364.4" stroke="#3c3c3c" stroke-width="1" />
<line x1="555.3" y1="371.5" x2="555.3" y2="379.9" stroke="#3c3c3c" stroke-width="1" />
<rect x="544.85" y="364.4" width="20.90" height="7.10" fill="#fff" stroke="#3c3c3c" stroke-width="1"/>
<line x1="544.85" y1="368.3" x2="565.75" y2="368.3" stroke="#3c3c3c" stroke-width="1.3" />
<line x1="589.7" y1="356.9" x2="589.7" y2="366.6" stroke="#3c3c3c" stroke-width="1" />
<line x1="589.7" y1="373.6" x2="589.7" y2="382.9" stroke="#3c3c3c" stroke-width="1" />
<rect x="579.25" y="366.6" width="20.90" height="7.00" fill="#fff" stroke="#3c3c3c" stroke-width="1"/>
<line x1="579.25" y1="370.3" x2="600.15" y2="370.3" stroke="#3c3c3c" stroke-width="1.3" />
<line x1="624.0" y1="338.6" x2="624.0" y2="344.3" stroke="#3c3c3c" stroke-width="1" />
<line x1="624.0" y1="353.6" x2="624.0" y2="360.3" stroke="#3c3c3c" stroke-width="1" />
<rect x="613.55" y="344.3" width="20.90" height="9.30" fill="#fff" stroke="#3c3c3c" stroke-width="1"/>
<line x1="613.55" y1="348.4" x2="634.45" y2="348.4" stroke="#3c3c3c" stroke-width="1.3" />
<rect x="350.5" y="270.5" width="144.5" height="59.80" fill="none" stroke="#4a4a4a" stroke-width="1"/>
<rect x="350.5" y="335.7" width="144.5" height="60.60" fill="none" stroke="#4a4a4a" stroke-width="1"/>
<rect x="500.5" y="270.5" width="144.0" height="59.80" fill="none" stroke="#4a4a4a" stroke-width="1"/>
<rect x="500.5" y="335.7" width="144.0" height="60.60" fill="none" stroke="#4a4a4a" stroke-width="1"/>
<line x1="347.4" y1="327.8" x2="350.5" y2="327.8" stroke="#4a4a4a" stroke-width="1" />
<text x="345.6" y="330.7" font-size="8" fill="#4D4D4D" color="#4D4D4D" text-anchor="end" >0.275</text>
<line x1="347.4" y1="313.2" x2="350.5" y2="313.2" stroke="#4a4a4a" stroke-width="1" />
<text x="345.6" y="316.09999999999997" font-size="8" fill="#4D4D4D" color="#4D4D4D" text-anchor="end" >0.300</text>
<line x1="347.4" y1="298.6" x2="350.5" y2="298.6" stroke="#4a4a4a" stroke-width="1" />
<text x="345.6" y="301.5" font-size="8" fill="#4D4D4D" color="#4D4D4D" text-anchor="end" >0.325</text>
<line x1="347.4" y1="284.0" x2="350.5" y2="284.0" stroke="#4a4a4a" stroke-width="1" />
<text x="345.6" y="286.9" font-size="8" fill="#4D4D4D" color="#4D4D4D" text-anchor="end" >0.350</text>
<line x1="347.4" y1="394.95" x2="350.5" y2="394.95" stroke="#4a4a4a" stroke-width="1" />
<text x="345.6" y="397.84999999999997" font-size="8" fill="#4D4D4D" color="#4D4D4D" text-anchor="end" >0.45</text>
<line x1="347.4" y1="379.7" x2="350.5" y2="379.7" stroke="#4a4a4a" stroke-width="1" />
<text x="345.6" y="382.59999999999997" font-size="8" fill="#4D4D4D" color="#4D4D4D" text-anchor="end" >0.48</text>
<line x1="347.4" y1="364.45" x2="350.5" y2="364.45" stroke="#4a4a4a" stroke-width="1" />
<text x="345.6" y="367.34999999999997" font-size="8" fill="#4D4D4D" color="#4D4D4D" text-anchor="end" >0.51</text>
<line x1="347.4" y1="349.2" x2="350.5" y2="349.2" stroke="#4a4a4a" stroke-width="1" />
<text x="345.6" y="352.09999999999997" font-size="8" fill="#4D4D4D" color="#4D4D4D" text-anchor="end" >0.54</text>
<line x1="371.0" y1="396.3" x2="371.0" y2="398.9" stroke="#4a4a4a" stroke-width="1" />
<text x="371.0" y="407.4" font-size="8" fill="#4D4D4D" color="#4D4D4D" text-anchor="middle" >Prior–</text>
<text x="371.0" y="416.09999999999997" font-size="8" fill="#4D4D4D" color="#4D4D4D" text-anchor="middle" >trained</text>
<text x="371.0" y="424.79999999999995" font-size="8" fill="#4D4D4D" color="#4D4D4D" text-anchor="middle" >(all)</text>
<line x1="405.5" y1="396.3" x2="405.5" y2="398.9" stroke="#4a4a4a" stroke-width="1" />
<text x="405.5" y="407.4" font-size="8" fill="#4D4D4D" color="#4D4D4D" text-anchor="middle" >Prior–</text>
<text x="405.5" y="416.09999999999997" font-size="8" fill="#4D4D4D" color="#4D4D4D" text-anchor="middle" >trained</text>
<text x="405.5" y="424.79999999999995" font-size="8" fill="#4D4D4D" color="#4D4D4D" text-anchor="middle" >(no sync.)</text>
<line x1="440.0" y1="396.3" x2="440.0" y2="398.9" stroke="#4a4a4a" stroke-width="1" />
<text x="440.0" y="407.4" font-size="8" fill="#4D4D4D" color="#4D4D4D" text-anchor="middle" >Prior–</text>
<text x="440.0" y="416.09999999999997" font-size="8" fill="#4D4D4D" color="#4D4D4D" text-anchor="middle" >trained</text>
<text x="440.0" y="424.79999999999995" font-size="8" fill="#4D4D4D" color="#4D4D4D" text-anchor="middle" >(no rec.)</text>
<line x1="474.5" y1="396.3" x2="474.5" y2="398.9" stroke="#4a4a4a" stroke-width="1" />
<text x="474.5" y="416.09999999999997" font-size="8" fill="#4D4D4D" color="#4D4D4D" text-anchor="middle" >Standard</text>
<line x1="520.6" y1="396.3" x2="520.6" y2="398.9" stroke="#4a4a4a" stroke-width="1" />
<text x="520.6" y="407.4" font-size="8" fill="#4D4D4D" color="#4D4D4D" text-anchor="middle" >Prior–</text>
<text x="520.6" y="416.09999999999997" font-size="8" fill="#4D4D4D" color="#4D4D4D" text-anchor="middle" >trained</text>
<text x="520.6" y="424.79999999999995" font-size="8" fill="#4D4D4D" color="#4D4D4D" text-anchor="middle" >(all)</text>
<line x1="555.3" y1="396.3" x2="555.3" y2="398.9" stroke="#4a4a4a" stroke-width="1" />
<text x="555.3" y="407.4" font-size="8" fill="#4D4D4D" color="#4D4D4D" text-anchor="middle" >Prior–</text>
<text x="555.3" y="416.09999999999997" font-size="8" fill="#4D4D4D" color="#4D4D4D" text-anchor="middle" >trained</text>
<text x="555.3" y="424.79999999999995" font-size="8" fill="#4D4D4D" color="#4D4D4D" text-anchor="middle" >(no sync.)</text>
<line x1="589.7" y1="396.3" x2="589.7" y2="398.9" stroke="#4a4a4a" stroke-width="1" />
<text x="589.7" y="407.4" font-size="8" fill="#4D4D4D" color="#4D4D4D" text-anchor="middle" >Prior–</text>
<text x="589.7" y="416.09999999999997" font-size="8" fill="#4D4D4D" color="#4D4D4D" text-anchor="middle" >trained</text>
<text x="589.7" y="424.79999999999995" font-size="8" fill="#4D4D4D" color="#4D4D4D" text-anchor="middle" >(no rec.)</text>
<line x1="624.0" y1="396.3" x2="624.0" y2="398.9" stroke="#4a4a4a" stroke-width="1" />
<text x="624.0" y="416.09999999999997" font-size="8" fill="#4D4D4D" color="#4D4D4D" text-anchor="middle" >Standard</text>
<text x="279.2" y="326.1" font-size="10" fill="#000" color="#000" text-anchor="middle" >Primed perplexity</text>
<text x="279.2" y="336.6" font-size="10" fill="#000" color="#000" text-anchor="middle" >divided by</text>
<text x="279.2" y="347.1" font-size="10" fill="#000" color="#000" text-anchor="middle" >unprimed perplexity</text>
</svg>
</body></html>
